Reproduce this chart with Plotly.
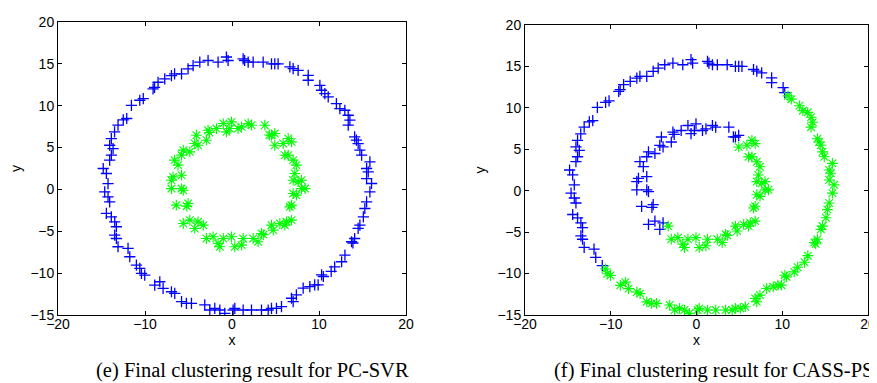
import plotly.graph_objects as go

# ---------------- data ----------------
outer_x = [-0.64, -1.6, -2.75, -3.7, -4.47, -5.05, -5.8, -6.6, -6.96, -7.73, -8.5, -9.07, -8.9,
           -10.2, -10.6, -11.56, -12.1, -12.5, -13.1, -13.5, -13.87, -14.06, -13.67, -13.87, -14.06,
           -14.8, -14.44, -14.25, -14.63, -14.25, -14.06, -14.44, -13.87, -13.48, -13.29, -13.48,
           -13.29, -13.1, -11.95, -11.75, -10.99,
           -10.6, -10.41, -10.03, -8.88, -8.3, -7.92, -6.96, -6.58, -5.8, -5.24, -4.66, -3.13, -2.55,
           -1.98, -1.4, -0.83, 0.13, 0.32, 1.28, 2.24, 3.39, 4.16, 4.54, 5.11, 5.69, 6.84, 7.03, 7.4,
           8.18, 8.95, 9.5, 9.9, 10.3, 10.5, 11.4, 11.8, 12.6, 12.98, 13.74, 13.9, 14.1, 14.5, 14.7,
           15.1, 15.27, 15.47, 15.85, 16.04, 15.47, 15.66, 15.47, 15.85, 14.9, 14.7, 14.5, 14.3, 14.1,
           13.36, 13.55, 13.36, 12.97, 12.4, 12.0, 11.06, 10.67,
           10.29, 10.1, 8.76, 8.76, 7.6, 7.03, 6.65, 5.3, 4.92, 4.54, 3.58, 2.43, 1.86, 1.28, 1.45, -0.45]
outer_y = [15.82, 15.2, 15.4, 15.2, 14.8, 14.4, 13.8, 13.8, 13.6, 13.2, 12.8, 12.0, 12.2,
           10.85, 10.65, 10.05, 8.47, 8.3, 7.67, 6.87, 6.08, 5.28, 4.88, 4.1, 3.5,
           2.5, 1.9, 0.7, -0.29, -0.88, -1.48, -2.87, -3.27, -3.87, -4.46, -5.46,
           -5.86, -6.85, -7.05, -8.04, -9.04,
           -9.44, -10.03, -10.23, -11.42, -11.03, -11.82, -12.22, -12.42, -13.41, -13.6, -13.6, -13.8, -14.4,
           -14.2, -14.4, -14.8, -14.4, -14.2, -14.4, -14.4, -14.4, -14.4, -14.2, -14.2, -14.0, -13.0, -13.4, -12.6,
           -11.8, -11.6, -11.4, -11.4, -10.2, -10.4, -9.8, -9.24, -8.64, -7.84, -6.25, -6.4, -5.86, -4.66, -4.27,
           -3.27, -2.28, -1.48, -0.29, 0.71, 1.3, 2.1, 2.5, 3.3, 4.1, 4.69, 5.48, 5.88, 6.28,
           7.67, 8.27, 8.86, 9.46, 9.66, 10.25, 11.05, 11.45,
           11.85, 12.44, 13.04, 13.63, 14.23, 14.43, 14.63, 15.0, 15.0, 15.0, 15.2, 15.2, 15.2, 15.6, 15.4, 15.4]
outer_lab_pcsvr = ["B"] * 122
outer_lab_cassps = ["B"] * 41 + ["G"] * 65 + ["B"] * 16

inner_x = [-0.06, -0.25, -1.0, -1.79, -2.75, -2.6, -2.94, -4.09, -4.28, -3.9, -4.85, -5.6, -5.8, -6.6,
           -6.2, -5.8, -6.77, -6.96, -6.96, -5.8, -5.6, -6.4, -5.05, -5.2, -5.6, -4.85, -3.9, -4.28,
           -3.3, -2.94, -2.17, -1.6, -1.4, -1.0, -0.06, 0.32, 1.28, 1.1, 2.43, 3.0, 3.39, 3.6, 4.54,
           4.74, 5.5, 6.07, 6.27, 6.84, 6.65, 6.84, 7.03, 7.4, 7.99, 8.4, 7.03, 7.6, 7.99, 7.22, 7.4,
           7.03, 6.46, 6.07, 6.84, 6.46, 5.88, 4.92,
           4.54, 4.92, 4.3, 3.77, 2.24, 1.86, 1.1, 0.7, -0.64]
inner_y = [8.07, 7.27, 7.87, 7.27, 7.07, 6.8, 5.88, 6.48, 5.48, 5.28, 4.49, 4.69, 4.1, 3.5,
           2.9, 1.7, 1.5, 1.1, 0.1, 0.1, -0.1, -1.88, -1.68, -2.0, -4.07, -3.67, -3.87, -4.66,
           -4.27, -5.86, -5.66, -6.45, -6.85, -5.86, -5.66, -6.85, -5.86, -6.65, -5.86, -6.25, -5.26, -5.4, -4.27,
           -4.86, -4.07, -4.27, -3.87, -3.67, -2.08, -1.88, -0.49, -0.68, 0.1, 0.1, 1.1, 0.9, 1.1, 1.9, 2.9,
           3.5, 4.09, 4.09, 5.68, 6.08, 5.48, 5.28,
           6.48, 6.68, 6.5, 7.67, 7.67, 7.87, 7.47, 7.27, 6.88]
inner_lab_pcsvr = ["G"] * 75
inner_lab_cassps = ["B"] * 28 + ["G"] * 38 + ["B"] * 9

x_ticks = [-20, -10, 0, 10, 20]
y_ticks = [-15, -10, -5, 0, 5, 10, 15, 20]
captions = ["(e) Final clustering result for PC-SVR", "(f) Final clustering result for CASS-PS"]

# ---------------- figure ----------------
all_x = outer_x + inner_x
all_y = outer_y + inner_y
panels = [outer_lab_pcsvr + inner_lab_pcsvr, outer_lab_cassps + inner_lab_cassps]

BLUE = "#0000ff"
GREEN = "#00ff00"

fig = go.Figure()
for i, labs in enumerate(panels):
    xa = "x" if i == 0 else "x2"
    ya = "y" if i == 0 else "y2"
    bx = [x for x, l in zip(all_x, labs) if l == "B"]
    by = [y for y, l in zip(all_y, labs) if l == "B"]
    gx = [x for x, l in zip(all_x, labs) if l == "G"]
    gy = [y for y, l in zip(all_y, labs) if l == "G"]
    fig.add_trace(go.Scatter(x=bx, y=by, mode="markers", xaxis=xa, yaxis=ya,
                             marker=dict(symbol="cross-thin-open", size=8, color=BLUE,
                                         line=dict(color=BLUE, width=1.3)),
                             showlegend=False, hoverinfo="skip"))
    fig.add_trace(go.Scatter(x=gx, y=gy, mode="markers", xaxis=xa, yaxis=ya,
                             marker=dict(symbol="asterisk-open", size=9, color=GREEN,
                                         line=dict(color=GREEN, width=1.1)),
                             showlegend=False, hoverinfo="skip"))

W, H = 877, 383
axis_common = dict(showgrid=False, zeroline=False, showline=True, linecolor="black",
                   linewidth=1, mirror="allticks", ticks="inside", ticklen=4,
                   tickcolor="black", automargin=False, ticklabeloverflow="allow",
                   tickfont=dict(family="Liberation Sans, Arial", size=14, color="black"))

boxes_px = [(50, 398, 14, 307), (517, 860, 17, 307)]
for i, (l, r, t, b) in enumerate(boxes_px):
    sx = "" if i == 0 else "2"
    fig.layout["xaxis" + sx] = dict(axis_common, domain=[l / W, r / W],
                                    range=[-20, 20], tickvals=x_ticks, anchor="y" + sx,
                                    ticklabelstandoff=-4,
                                    title=dict(text="x", standoff=0,
                                               font=dict(family="Liberation Sans, Arial",
                                                         size=14, color="black")))
    fig.layout["yaxis" + sx] = dict(axis_common, domain=[1 - b / H, 1 - t / H],
                                    range=[-15, 20], tickvals=y_ticks, anchor="x" + sx,
                                    title=dict(text="y", standoff=8,
                                               font=dict(family="Liberation Sans, Arial",
                                                         size=14, color="black")))

cap_px = [244, 705]
for cx, txt in zip(cap_px, captions):
    fig.add_annotation(x=cx / W, y=1 - 362 / H, xref="paper", yref="paper",
                       text=txt, showarrow=False, xanchor="center", yanchor="middle",
                       font=dict(family="Liberation Serif, Times New Roman", size=20.5,
                                 color="black"))

fig.update_layout(width=W, height=H, margin=dict(l=0, r=0, t=0, b=0, autoexpand=False),
                  paper_bgcolor="white", plot_bgcolor="white")

fig.write_html("out.html")
